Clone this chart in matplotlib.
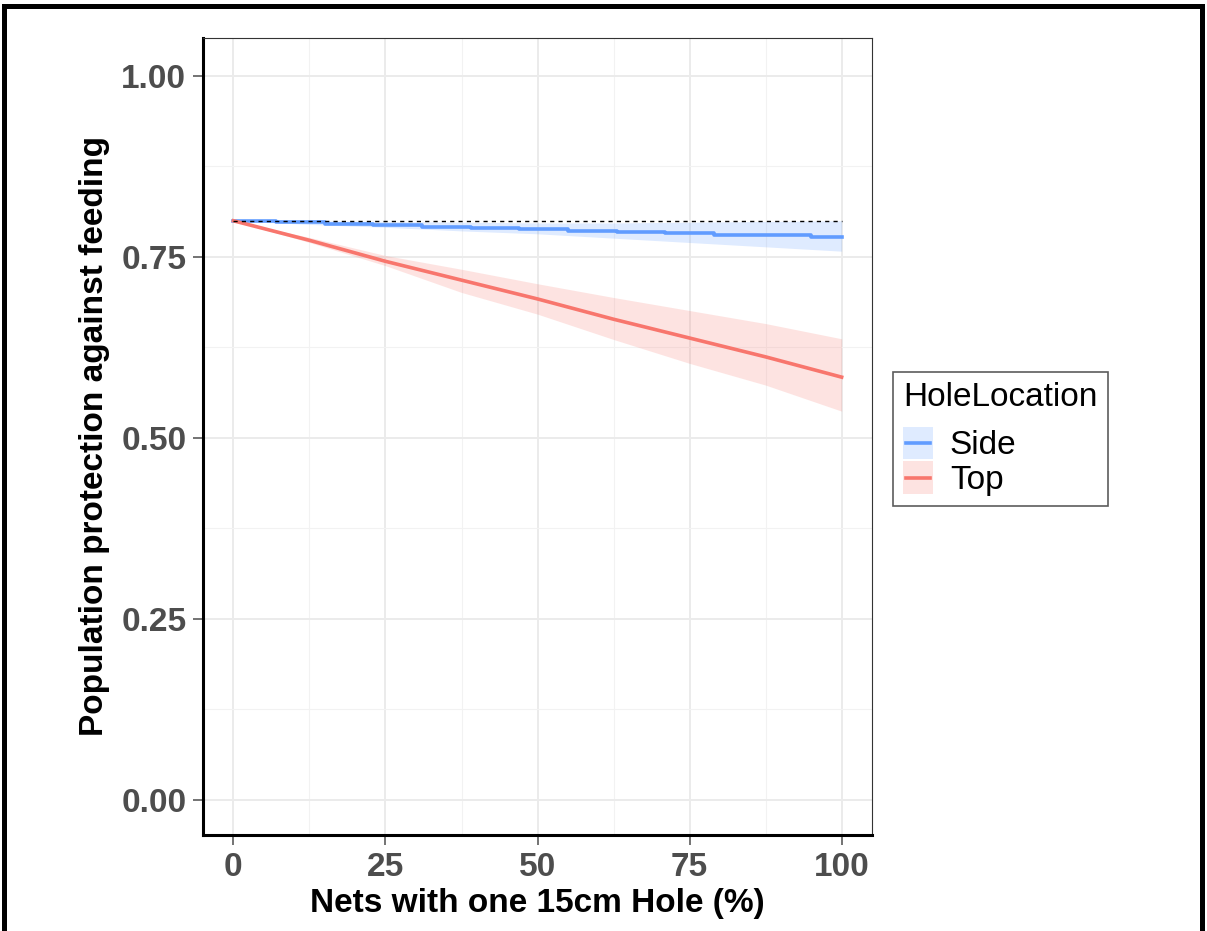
import matplotlib
matplotlib.use("Agg")
import matplotlib.pyplot as plt
import matplotlib.patches as mpatches
from matplotlib.lines import Line2D
from matplotlib.legend_handler import HandlerBase

# Side: stepped mean line with ribbon
side_x = [0, 7, 15, 23, 31, 39, 47, 55, 63, 71, 79, 87, 95, 100]
side_y = [0.800, 0.798, 0.796, 0.794, 0.792, 0.790, 0.788, 0.786, 0.784, 0.783, 0.781, 0.780, 0.778, 0.778]
side_band_x = [0, 12.5, 25, 37.5, 50, 62.5, 75, 87.5, 100]
side_lo = [0.800, 0.795, 0.791, 0.786, 0.782, 0.776, 0.770, 0.764, 0.758]
side_hi = [0.800, 0.800, 0.799, 0.798, 0.797, 0.797, 0.798, 0.799, 0.800]

# Top
top_x = [0, 12.5, 25, 37.5, 50, 62.5, 75, 87.5, 100]
top_y = [0.800, 0.773, 0.744, 0.718, 0.692, 0.664, 0.638, 0.612, 0.584]
top_lo = [0.800, 0.770, 0.738, 0.701, 0.671, 0.636, 0.603, 0.573, 0.537]
top_hi = [0.800, 0.777, 0.752, 0.733, 0.713, 0.694, 0.676, 0.658, 0.637]

baseline = 0.80
xticks = [0, 25, 50, 75, 100]
yticks = [0.00, 0.25, 0.50, 0.75, 1.00]
groups = ["Side", "Top"]

BLUE = "#619CFF"
RED = "#F8766D"
GREY = "#4D4D4D"


class RibbonKey(HandlerBase):
    # ggplot-style key: shaded box with the line across its middle
    def create_artists(self, legend, orig_handle, xdescent, ydescent,
                       width, height, fontsize, trans):
        c = orig_handle.get_color()
        box = mpatches.Rectangle((-xdescent, -ydescent), width, height,
                                 facecolor=c, alpha=0.2, linewidth=0,
                                 transform=trans)
        ym = -ydescent + height / 2
        line = Line2D([-xdescent + 2, -xdescent + width - 2], [ym, ym],
                      color=c, linewidth=2.6, transform=trans)
        return [box, line]


plt.rcParams["font.family"] = ["Liberation Sans", "DejaVu Sans"]

fig = plt.figure(figsize=(12.07, 9.31), dpi=100)
ax = fig.add_axes([0.1682, 0.1031, 0.5543, 0.8561])

ax.set_xlim(-5, 105)
ax.set_ylim(-0.0485, 1.0525)

# grid
ax.set_xticks(xticks)
ax.set_yticks(yticks)
ax.set_xticks([12.5, 37.5, 62.5, 87.5], minor=True)
ax.set_yticks([0.125, 0.375, 0.625, 0.875], minor=True)
ax.grid(True, which="major", color="#EBEBEB", linewidth=1.4, zorder=0)
ax.grid(True, which="minor", color="#F2F2F2", linewidth=0.8, zorder=0)
ax.set_axisbelow(True)

ax.fill_between(side_band_x, side_lo, side_hi, color=BLUE, alpha=0.2, linewidth=0)
ax.fill_between(top_x, top_lo, top_hi, color=RED, alpha=0.2, linewidth=0)
l_side, = ax.plot(side_x, side_y, color=BLUE, linewidth=2.6, drawstyle="steps-post")
l_top, = ax.plot(top_x, top_y, color=RED, linewidth=2.6)
ax.plot([0, 100], [baseline, baseline], color="black", linestyle=(0, (3, 3)), linewidth=1.0)

for s in ["top", "right"]:
    ax.spines[s].set_color("#333333")
    ax.spines[s].set_linewidth(0.8)
for s in ["left", "bottom"]:
    ax.spines[s].set_color("black")
    ax.spines[s].set_linewidth(2.2)

ax.tick_params(which="minor", length=0)
ax.tick_params(which="major", length=7, width=1.1, color=GREY, labelcolor=GREY,
               labelsize=24, pad=5)
ax.set_xticklabels([str(v) for v in xticks], fontweight="bold")
ax.set_yticklabels([f"{v:.2f}" for v in yticks], fontweight="bold")

ax.set_xlabel("Nets with one 15cm Hole (%)", fontsize=24, fontweight="bold", labelpad=4)
ax.set_ylabel("Population protection against feeding", fontsize=24, fontweight="bold", labelpad=8)

leg = fig.legend([l_side, l_top], groups, title="HoleLocation",
                 handler_map={Line2D: RibbonKey()},
                 loc="upper left", bbox_to_anchor=(0.740, 0.6004),
                 fontsize=24, title_fontsize=24, frameon=True, fancybox=False,
                 borderaxespad=0, handlelength=0.9, handleheight=1.12,
                 labelspacing=0.0, handletextpad=0.5, borderpad=0.3,
                 alignment="left")
leg._legend_box.sep = 10
leg.get_frame().set_edgecolor("#333333")
leg.get_frame().set_linewidth(1.2)

# outer frame
fig.patches.append(mpatches.Rectangle((0.0033, -0.05), 0.9926, 1.0436,
                                      transform=fig.transFigure, fill=False,
                                      edgecolor="black", linewidth=3.6))

fig.savefig("out.png", dpi=100)
